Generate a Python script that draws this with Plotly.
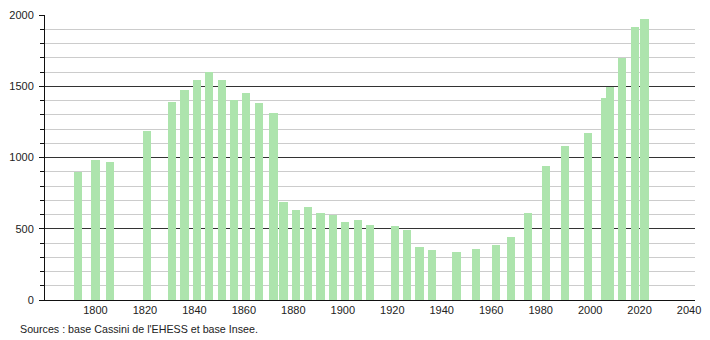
import plotly.graph_objects as go

years = [1793, 1800, 1806, 1821, 1831, 1836, 1841, 1846, 1851, 1856, 1861, 1866,
         1872, 1876, 1881, 1886, 1891, 1896, 1901, 1906, 1911, 1921, 1926, 1931,
         1936, 1946, 1954, 1962, 1968, 1975, 1982, 1990, 1999, 2006, 2008, 2013,
         2018, 2022]
population = [897, 980, 970, 1188, 1391, 1474, 1545, 1598, 1545, 1405, 1455, 1379,
              1310, 685, 634, 655, 614, 598, 549, 563, 524, 517, 494, 372,
              352, 338, 361, 386, 439, 614, 943, 1081, 1172, 1418, 1494, 1701,
              1915, 1970]
x_tick_vals = [1800, 1820, 1840, 1860, 1880, 1900, 1920, 1940, 1960, 1980, 2000, 2020, 2040]
y_tick_vals = [0, 500, 1000, 1500, 2000]
source_text = "Sources : base Cassini de l'EHESS et base Insee."

fig = go.Figure()
fig.add_trace(go.Bar(
    x=years, y=population, width=3.3,
    marker=dict(color="#ade4ad", line=dict(width=0)),
    hoverinfo="x+y",
))

font = dict(family="Liberation Sans, Arial, sans-serif", size=11, color="#222222")
src_font = dict(family="Liberation Sans, Arial, sans-serif", size=10.7, color="#222222")

fig.update_layout(
    width=710, height=340,
    margin=dict(l=44, r=9, t=10, b=40),
    paper_bgcolor="white", plot_bgcolor="white",
    showlegend=False,
    font=font,
    bargap=0,
    xaxis=dict(
        range=[1779.6, 2042.4],
        tickvals=x_tick_vals,
        ticks="", showgrid=False, zeroline=False,
        showline=True, linecolor="#111111", linewidth=1,
        tickfont=font,
    ),
    yaxis=dict(
        range=[0, 2000],
        tickvals=y_tick_vals,
        ticks="outside", ticklen=5, tickcolor="#111111", tickwidth=1,
        showgrid=True, gridcolor="#333333", gridwidth=1,
        zeroline=False,
        showline=True, linecolor="#111111", linewidth=1,
        tickfont=font,
        ticklabelstandoff=3,
        minor=dict(dtick=100, showgrid=True, gridcolor="#cccccc", gridwidth=1,
                   ticks="outside", ticklen=4, tickcolor="#111111"),
    ),
    annotations=[dict(
        text=source_text, xref="paper", yref="paper",
        x=(17 - 44) / 657, y=(300 - 330) / 290,
        xanchor="left", yanchor="middle", showarrow=False,
        font=src_font,
    )],
)

fig.write_html("out.html")
